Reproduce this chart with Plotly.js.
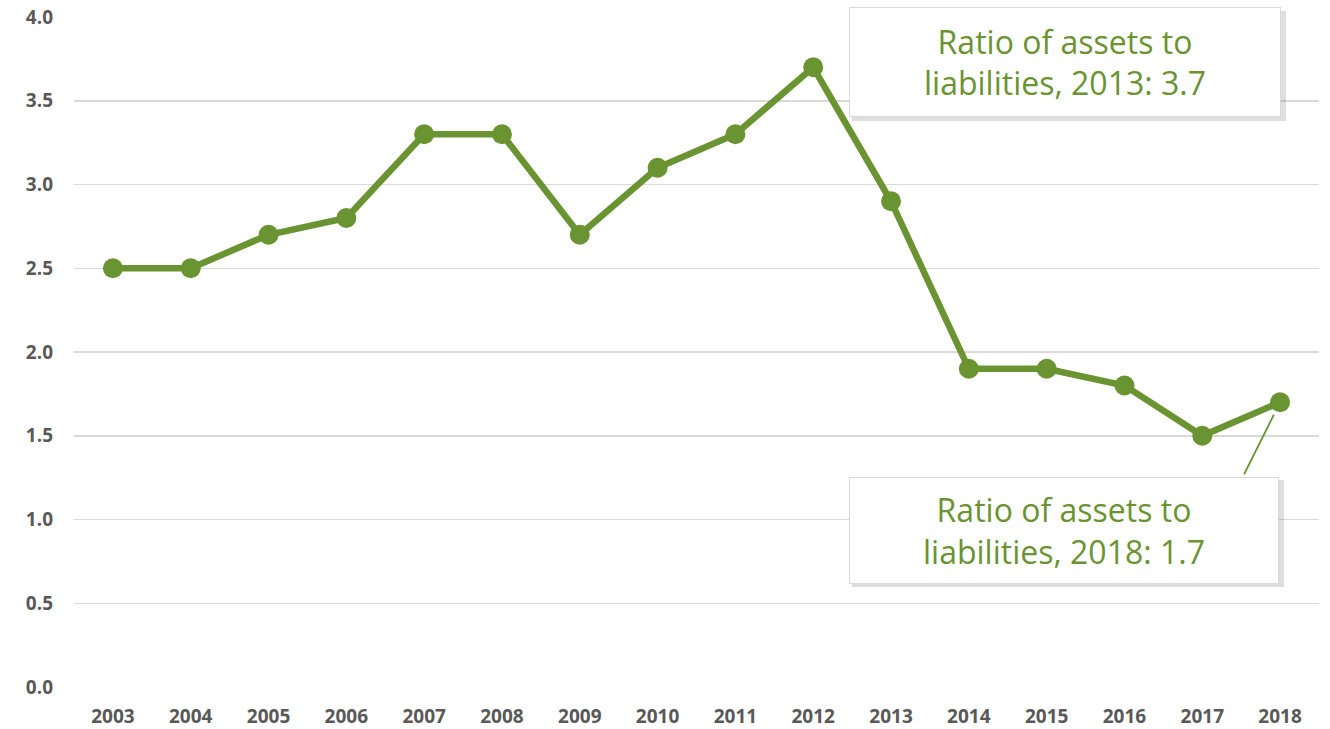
<!DOCTYPE html>
<html>
<head>
<meta charset="utf-8">
<script src="https://cdn.plot.ly/plotly-3.0.1.min.js"></script>
<style>html,body{margin:0;padding:0;background:#fff;}#chart{width:1330px;height:729px;}</style>
</head>
<body>
<div id="chart"></div>
<script>
const years = ['2003','2004','2005','2006','2007','2008','2009','2010','2011','2012','2013','2014','2015','2016','2017','2018'];
const ratio = [2.5,2.5,2.7,2.8,3.3,3.3,2.7,3.1,3.3,3.7,2.9,1.9,1.9,1.8,1.5,1.7];
const yTicks = [0,0.5,1,1.5,2,2.5,3,3.5,4];
const yTickText = ['0.0','0.5','1.0','1.5','2.0','2.5','3.0','3.5','4.0'];
const note1 = 'Ratio of assets to<br>liabilities, 2013: 3.7';
const note2 = 'Ratio of assets to<br>liabilities, 2018: 1.7';

const green = '#6a9331';
const trace = {
  x: years, y: ratio, type: 'scatter', mode: 'lines+markers',
  line: {color: green, width: 6.5},
  marker: {color: green, size: 20},
  hoverinfo: 'skip'
};
const lastIdx = years.length - 1;
const tickFont = {family: 'Open Sans, sans-serif', size: 19, color: '#595959', weight: 'bold'};
const layout = {
  width: 1330, height: 729,
  margin: {l: 74, r: 11, t: 17, b: 42},
  paper_bgcolor: '#fff', plot_bgcolor: '#fff',
  showlegend: false,
  xaxis: {type: 'category', range: [-0.5, 15.5], showgrid: false, zeroline: false, showline: false,
          ticks: '', tickfont: tickFont, ticklabelstandoff: 16, fixedrange: true},
  yaxis: {range: [0, 4], tickvals: yTicks, ticktext: yTickText, showgrid: true, gridcolor: '#d9d9d9', gridwidth: 1.5,
          zeroline: false, showline: false, ticks: '', tickfont: tickFont, ticklabelstandoff: 20, fixedrange: true},
  shapes: [
    {type: 'rect', xref: 'paper', yref: 'paper', x0: 0.6249, x1: 0.9735, y0: 0.8448, y1: 1.0090,
     fillcolor: 'rgba(0,0,0,0.13)', line: {width: 0}, layer: 'above'},
    {type: 'rect', xref: 'paper', yref: 'paper', x0: 0.6249, x1: 0.9719, y0: 0.1493, y1: 0.3090,
     fillcolor: 'rgba(0,0,0,0.13)', line: {width: 0}, layer: 'above'}
  ],
  annotations: [
    {xref: 'paper', yref: 'paper', x: 0.796, y: 0.933, xanchor: 'center', yanchor: 'middle',
     text: note1, showarrow: false, align: 'center', width: 430, height: 108,
     bgcolor: '#ffffff', bordercolor: '#d9d9d9', borderwidth: 1, borderpad: 0,
     font: {family: 'Open Sans, sans-serif', size: 32, color: green}},
    {x: lastIdx, y: ratio[lastIdx], xref: 'x', yref: 'y', text: '.', showarrow: true, arrowhead: 0,
     arrowwidth: 1.8, arrowcolor: green, axref: 'pixel', ayref: 'pixel', ax: -38, ay: 76, standoff: 14,
     font: {size: 4, color: 'rgba(0,0,0,0)'}},
    {xref: 'paper', yref: 'paper', x: 0.7952, y: 0.234, xanchor: 'center', yanchor: 'middle',
     text: note2, showarrow: false, align: 'center', width: 428, height: 105,
     bgcolor: '#ffffff', bordercolor: '#d9d9d9', borderwidth: 1, borderpad: 0,
     font: {family: 'Open Sans, sans-serif', size: 32, color: green}}
  ]
};
Plotly.newPlot('chart', [trace], layout, {displayModeBar: false, staticPlot: true});
</script>
</body>
</html>
